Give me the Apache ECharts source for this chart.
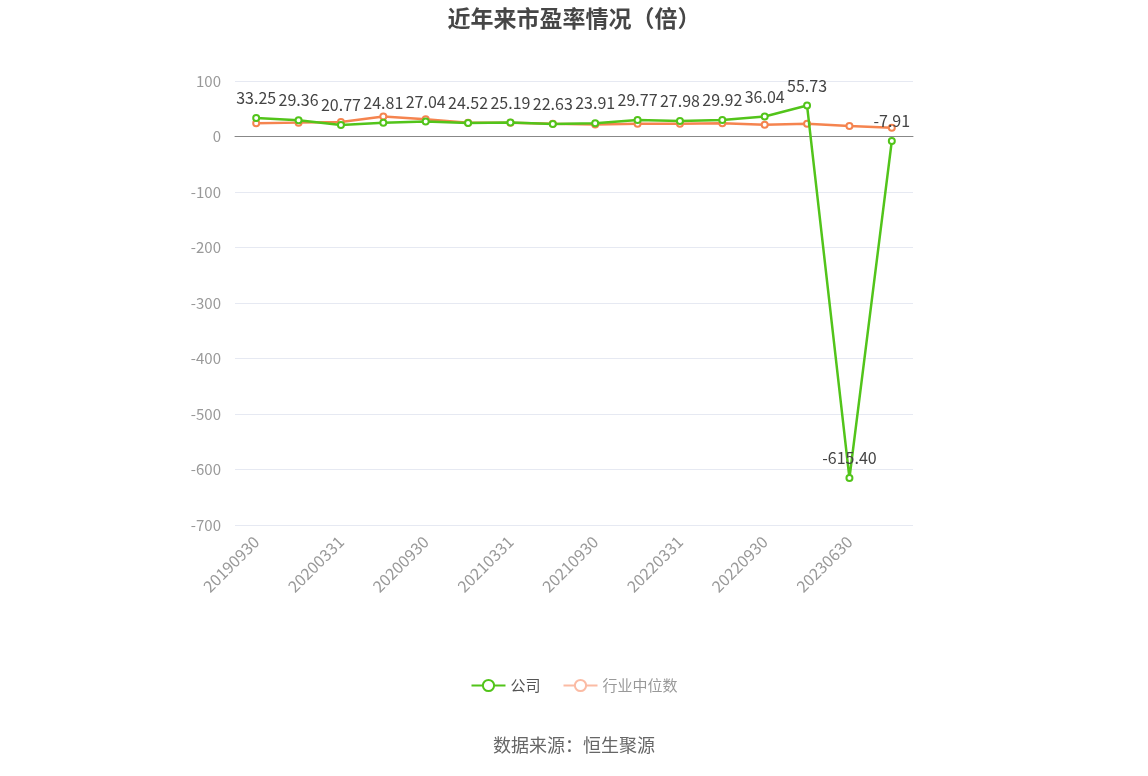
<!DOCTYPE html>
<html>
<head>
<meta charset="utf-8">
<script src="https://cdn.jsdelivr.net/npm/echarts@6/dist/echarts.min.js"></script>
<style>
  html, body { margin: 0; padding: 0; background: #fff; }
  #chart { width: 1148px; height: 776px; }
</style>
</head>
<body>
<div id="chart"></div>
<script>
// 报告期
const categories = [
  '20190930', '20191231', '20200331', '20200630', '20200930', '20201231',
  '20210331', '20210630', '20210930', '20211231', '20220331', '20220630',
  '20220930', '20221231', '20230630', '20230930'
];
// 公司市盈率
const companyPE = [
  33.25, 29.36, 20.77, 24.81, 27.04, 24.52, 25.19, 22.63,
  23.91, 29.77, 27.98, 29.92, 36.04, 55.73, -615.40, -7.91
];
// 行业中位数
const industryPE = [
  24, 25, 26, 36, 31, 25, 24.6, 23,
  21.6, 23, 23, 24, 21, 23, 19, 15.7
];
const yTicks = { min: -700, max: 100, interval: 100 };

const chart = echarts.init(document.getElementById('chart'));
const fontFamily = '"Noto Sans CJK SC", "Microsoft YaHei", sans-serif';

chart.setOption({
  textStyle: { fontFamily: fontFamily },
  title: {
    text: '近年来市盈率情况（倍）',
    left: 'center',
    top: 2,
    textStyle: { fontSize: 23, fontWeight: 'bold', color: '#464646', fontFamily: fontFamily }
  },
  legend: {
    bottom: 78,
    left: 'center',
    itemWidth: 34,
    itemHeight: 14,
    itemGap: 22,
    textStyle: { fontSize: 15, color: '#555' },
    data: [
      { name: '公司', textStyle: { color: '#555' } },
      {
        name: '行业中位数',
        itemStyle: { color: '#fbbba4', borderColor: '#fbbba4' },
        lineStyle: { color: '#fbbba4' },
        textStyle: { color: '#999' }
      }
    ]
  },
  graphic: [{
    type: 'text',
    left: 'center',
    top: 736,
    style: { text: '数据来源：恒生聚源', fontSize: 18, fill: '#666', fontFamily: fontFamily }
  }],
  grid: { left: 235, right: 235, top: 81, bottom: 251, containLabel: false },
  xAxis: {
    type: 'category',
    data: categories,
    boundaryGap: true,
    axisLine: { lineStyle: { color: '#888' } },
    axisTick: { alignWithLabel: true, interval: 1, lineStyle: { color: '#888' } },
    axisLabel: { interval: 1, rotate: 45, color: '#999', fontSize: 16, margin: 14 }
  },
  yAxis: {
    type: 'value',
    min: yTicks.min,
    max: yTicks.max,
    interval: yTicks.interval,
    axisLine: { show: false },
    axisTick: { show: false },
    axisLabel: { color: '#999', fontSize: 15, margin: 14 },
    splitLine: { lineStyle: { color: '#e6e9f2' } }
  },
  series: [
    {
      name: '公司',
      type: 'line',
      data: companyPE,
      z: 3,
      symbol: 'emptyCircle',
      symbolSize: 6,
      color: '#52c41a',
      lineStyle: { width: 2.5, color: '#52c41a' },
      itemStyle: { color: '#52c41a', borderWidth: 2 },
      label: {
        show: true,
        position: 'top',
        distance: 8,
        color: '#444',
        fontSize: 16,
        formatter: p => p.value.toFixed(2)
      }
    },
    {
      name: '行业中位数',
      type: 'line',
      data: industryPE,
      z: 2,
      symbol: 'emptyCircle',
      symbolSize: 6,
      color: '#f5844f',
      lineStyle: { width: 2.5, color: '#f5844f' },
      itemStyle: { color: '#f5844f', borderWidth: 2 }
    }
  ]
});
</script>
</body>
</html>
